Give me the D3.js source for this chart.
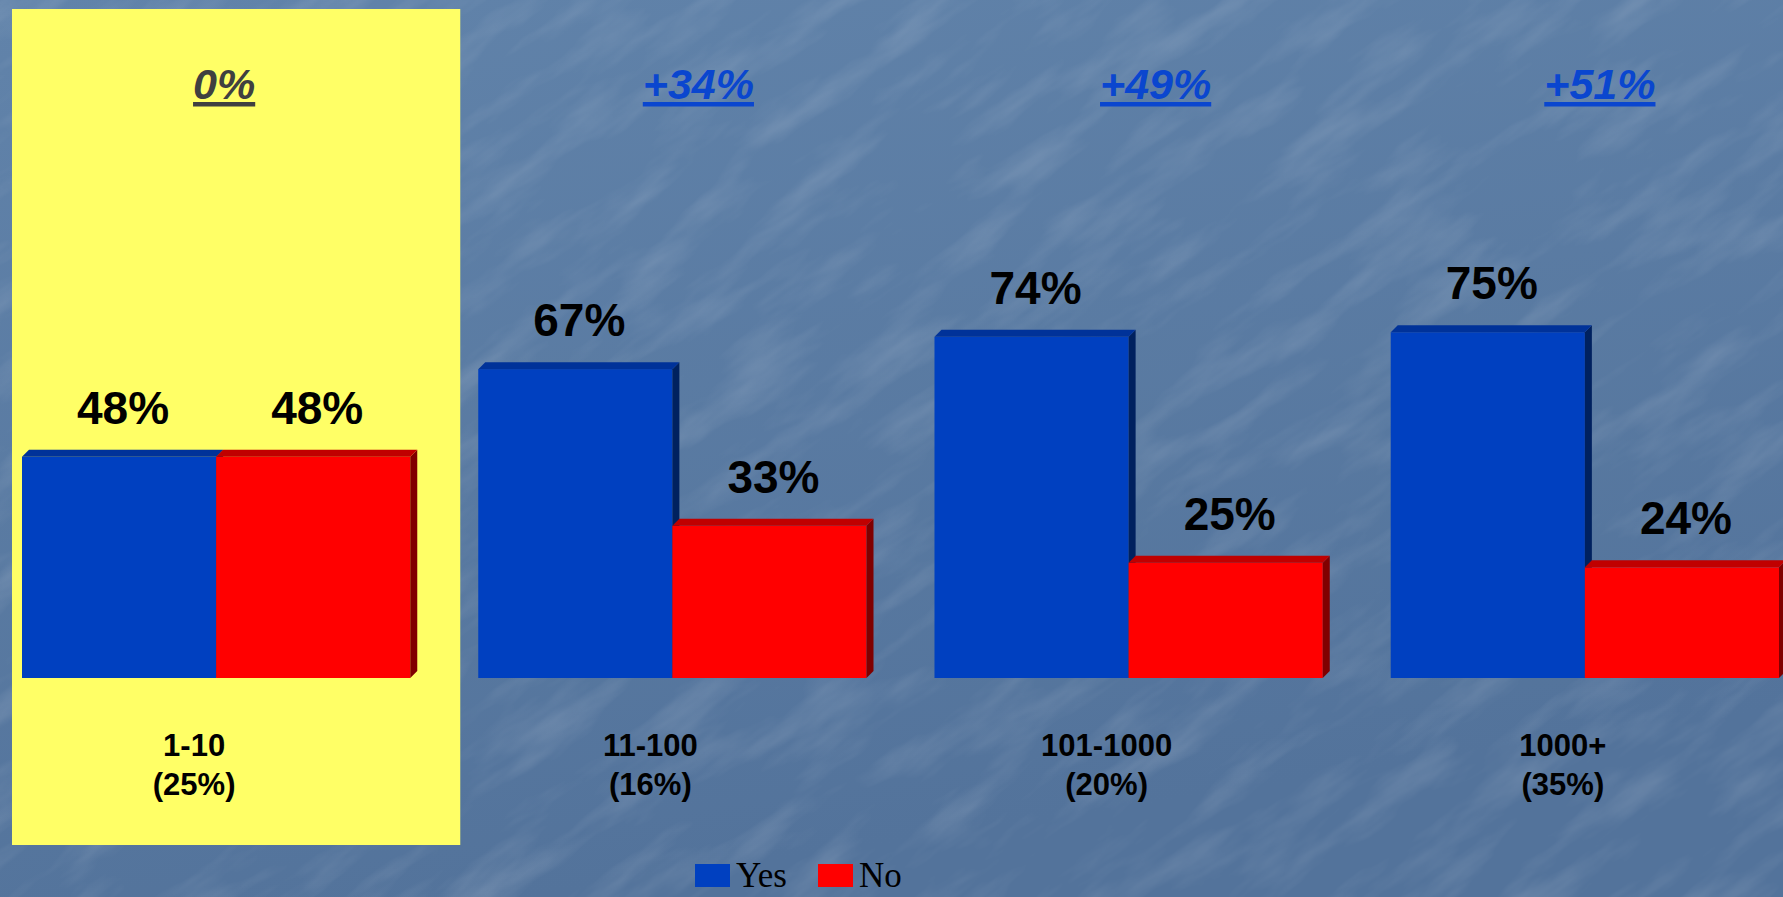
<!DOCTYPE html>
<html><head><meta charset="utf-8">
<script src="https://cdn.jsdelivr.net/npm/d3@7"></script>
<style>html,body{margin:0;padding:0;overflow:hidden;background:#5a7ba2}</style>
</head><body><svg id="chart" width="1783" height="897"></svg>
<script>
// ---- data ----
const categories = ["1-10", "11-100", "101-1000", "1000+"];
const shares = ["(25%)", "(16%)", "(20%)", "(35%)"];
const seriesNames = ["Yes", "No"];
const yesValues = [48, 67, 74, 75];
const noValues = [48, 33, 25, 24];
const changeLabels = ["0%", "+34%", "+49%", "+51%"];

// ---- layout / style ----
const W = 1783, H = 897;
const colors = {Yes: {front: "#0040c0", top: "#003299", side: "#00215f"},
                No:  {front: "#ff0000", top: "#c00000", side: "#800000"}};
const depth = 7;
const headerDx = [8, 26, 27, 15];

const svg = d3.select("#chart");
const defs = svg.append("defs");

// textured background
const f = defs.append("filter").attr("id", "tex").attr("x", 0).attr("y", 0).attr("width", 1).attr("height", 1);
f.append("feTurbulence").attr("type", "fractalNoise").attr("baseFrequency", "0.008 0.03")
  .attr("numOctaves", 4).attr("seed", 11).attr("result", "n");
f.append("feColorMatrix").attr("in", "n").attr("type", "matrix")
  .attr("values", "0 0 0 0 1  0 0 0 0 1  0 0 0 0 1  1.1 0 0 0 -0.5").attr("result", "a");
f.append("feComposite").attr("in", "a").attr("in2", "SourceGraphic").attr("operator", "in");

const g0 = defs.append("linearGradient").attr("id", "bg").attr("x1", 0).attr("y1", 0).attr("x2", 0.3).attr("y2", 1);
g0.append("stop").attr("offset", 0).attr("stop-color", "#6183aa");
g0.append("stop").attr("offset", 1).attr("stop-color", "#53739b");

svg.append("rect").attr("width", W).attr("height", H).attr("fill", "url(#bg)");
svg.append("g").attr("transform", "rotate(-35 891 448)")
  .append("rect").attr("x", -700).attr("y", -700).attr("width", W + 1400).attr("height", H + 1400)
  .attr("fill", "#fff").attr("opacity", 0.25).attr("filter", "url(#tex)");

// scales
const x0 = d3.scaleBand().domain(categories).range([22, 1779]).paddingInner(0.149).paddingOuter(0);
const x1 = d3.scaleBand().domain(seriesNames).range([0, x0.bandwidth()]).padding(0);
const y = d3.scaleLinear().domain([0, 100]).range([678, 217]);

// yellow highlight panel behind first category
svg.append("rect")
  .attr("x", x0(categories[0]) - 10).attr("y", 9)
  .attr("width", x0.bandwidth() + 60).attr("height", 836)
  .attr("fill", "#ffff66");

const rows = categories.map((c, i) => ({cat: c, share: shares[i], change: changeLabels[i], i,
  vals: [{s: "Yes", v: yesValues[i]}, {s: "No", v: noValues[i]}]}));

const base = y(0);
const groups = svg.append("g").selectAll("g").data(rows).join("g")
  .attr("transform", d => `translate(${x0(d.cat)},0)`);

const bw = x1.bandwidth();
groups.each(function(d) {
  const g = d3.select(this);
  d.vals.forEach(b => {
    const x = x1(b.s), yt = y(b.v), c = colors[b.s];
    g.append("rect").attr("x", x).attr("y", yt).attr("width", bw).attr("height", base - yt).attr("fill", c.front);
    g.append("polygon").attr("fill", c.side)
      .attr("points", [[x + bw, yt], [x + bw + depth, yt - depth], [x + bw + depth, base - depth], [x + bw, base]].join(" "));
    g.append("polygon").attr("fill", c.top)
      .attr("points", [[x, yt], [x + depth, yt - depth], [x + bw + depth, yt - depth], [x + bw, yt]].join(" "));
  });
  d.vals.forEach(b => {
    g.append("text").attr("x", x1(b.s) + bw / 2 + 4).attr("y", y(b.v) - 33)
      .attr("text-anchor", "middle")
      .style("font-family", "'Liberation Sans', Arial, sans-serif")
      .style("font-weight", "bold").style("font-size", "46px").attr("fill", "#000")
      .text(b.v + "%");
  });
});

// category labels
const catX = d => x0(d.cat) + x0.bandwidth() / 2 - 22;
const catText = svg.append("g").selectAll("text").data(rows).join("text")
  .attr("text-anchor", "middle")
  .style("font-family", "'Liberation Sans', Arial, sans-serif")
  .style("font-weight", "bold").style("font-size", "31px").attr("fill", "#000");
catText.append("tspan").attr("x", catX).attr("y", 756).text(d => d.cat);
catText.append("tspan").attr("x", catX).attr("y", 795).text(d => d.share);

// change headers (underlined)
const hdr = svg.append("g").selectAll("g").data(rows).join("g");
hdr.append("text")
  .attr("x", d => x0(d.cat) + x0.bandwidth() / 2 + headerDx[d.i]).attr("y", 99)
  .attr("text-anchor", "middle")
  .style("font-family", "'Liberation Sans', Arial, sans-serif")
  .style("font-weight", "bold").style("font-style", "italic").style("font-size", "43px")
  .attr("fill", d => d.i === 0 ? "#404040" : "#0a46cf")
  .text(d => d.change)
  .each(function(d) {
    const bb = this.getBBox();
    d3.select(this.parentNode).append("rect")
      .attr("x", bb.x).attr("y", 102).attr("width", bb.width).attr("height", 4.5)
      .attr("fill", d.i === 0 ? "#404040" : "#0a46cf");
  });

// legend
const leg = svg.append("g");
const legItems = [{s: "Yes", x: 695}, {s: "No", x: 818}];
legItems.forEach(it => {
  leg.append("rect").attr("x", it.x).attr("y", 864).attr("width", 35).attr("height", 23).attr("fill", colors[it.s].front);
  leg.append("text").attr("x", it.x + 41).attr("y", 887)
    .style("font-family", "'Liberation Serif', 'Times New Roman', serif").style("font-size", "35px")
    .attr("fill", "#000").text(it.s);
});
</script></body></html>
